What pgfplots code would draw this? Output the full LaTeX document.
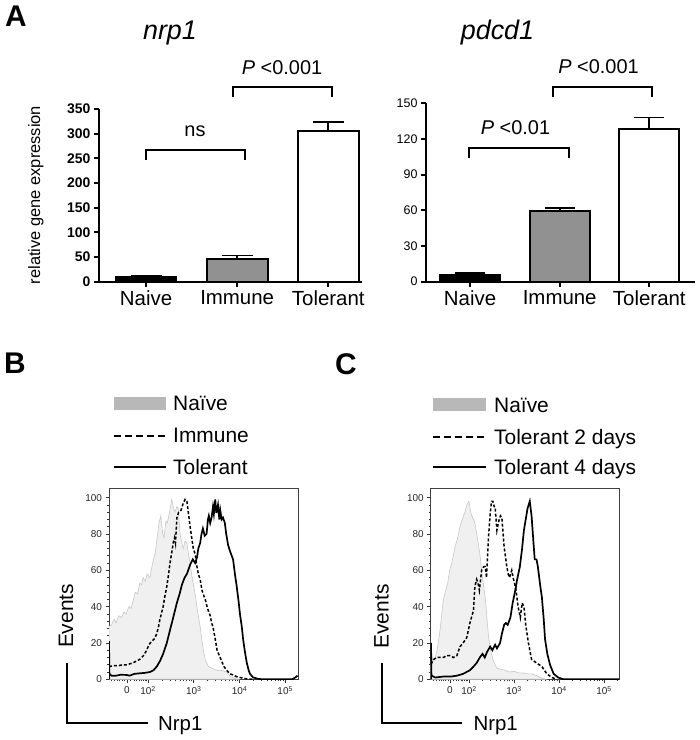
\documentclass[border=0pt]{standalone}
\usepackage{pgfplots}
\pgfplotsset{compat=1.18}
\usepackage{fontspec}
\setmainfont{Liberation Sans}
\newcommand{\fs}[1]{\fontsize{#1}{#1}\selectfont}
\begin{document}
\begin{tikzpicture}[x=1bp,y=1bp]
\path[use as bounding box] (0,0) rectangle (700,740);

%% ---------- Panel A left: nrp1 ----------
\begin{axis}[
  at={(99bp,458.3bp)}, anchor=south west, scale only axis,
  width=263bp, height=172.7bp,
  xmin=0.484, xmax=3.37, ymin=0, ymax=350,
  axis lines*=left,
  axis line style={line width=2bp},
  tick align=outside, major tick length=5bp,
  tick style={line width=2bp, black},
  xtick={1,2,3}, xticklabels={Naive,Immune,Tolerant},
  ytick={0,50,...,350},
  x tick label style={font=\fs{20.5}},
  y tick label style={font=\fs{14}\bfseries},
  /pgf/number format/assume math mode=true,
  clip=false,
]
\addplot[ybar, bar width=61bp, bar shift=0pt, fill=black, draw=black, line width=1.8bp,
  error bars/.cd, y dir=plus, y explicit,
  error bar style={line width=1.8bp},
  error mark options={line width=1.8bp, mark size=15.5bp, rotate=90}]
  coordinates {(1,10) +- (0,2)};
\addplot[ybar, bar width=61bp, bar shift=0pt, fill=black!43, draw=black, line width=1.8bp,
  error bars/.cd, y dir=plus, y explicit,
  error bar style={line width=1.8bp},
  error mark options={line width=1.8bp, mark size=15.5bp, rotate=90}]
  coordinates {(2,46) +- (0,7)};
\addplot[ybar, bar width=61bp, bar shift=0pt, fill=white, draw=black, line width=1.8bp,
  error bars/.cd, y dir=plus, y explicit,
  error bar style={line width=1.8bp},
  error mark options={line width=1.8bp, mark size=15.5bp, rotate=90}]
  coordinates {(3,306) +- (0,18)};
\end{axis}

%% ---------- Panel A right: pdcd1 ----------
\begin{axis}[
  at={(426bp,458.3bp)}, anchor=south west, scale only axis,
  width=269bp, height=178.4bp,
  xmin=0.508, xmax=3.51, ymin=0, ymax=150,
  axis lines*=left,
  axis line style={line width=2bp},
  tick align=outside, major tick length=5bp,
  tick style={line width=2bp, black},
  xtick={1,2,3}, xticklabels={Naive,Immune,Tolerant},
  ytick={0,30,...,150},
  x tick label style={font=\fs{20.5}},
  y tick label style={font=\fs{12.5}},
  /pgf/number format/assume math mode=true,
  clip=false,
]
\addplot[ybar, bar width=60bp, bar shift=0pt, fill=black, draw=black, line width=1.8bp,
  error bars/.cd, y dir=plus, y explicit,
  error bar style={line width=1.8bp},
  error mark options={line width=1.8bp, mark size=15bp, rotate=90}]
  coordinates {(1,5.5) +- (0,1.8)};
\addplot[ybar, bar width=60bp, bar shift=0pt, fill=black!43, draw=black, line width=1.8bp,
  error bars/.cd, y dir=plus, y explicit,
  error bar style={line width=1.8bp},
  error mark options={line width=1.8bp, mark size=15bp, rotate=90}]
  coordinates {(2,59.7) +- (0,2.3)};
\addplot[ybar, bar width=60bp, bar shift=0pt, fill=white, draw=black, line width=1.8bp,
  error bars/.cd, y dir=plus, y explicit,
  error bar style={line width=1.8bp},
  error mark options={line width=1.8bp, mark size=15bp, rotate=90}]
  coordinates {(3,128.2) +- (0,9.8)};
\end{axis}

%% ---------- Panel B histogram ----------
\begin{axis}[
  at={(109bp,60.7bp)}, anchor=south west, scale only axis,
  width=189bp, height=191.3bp,
  xmin=1.146, xmax=5.28, ymin=0, ymax=105.3,
  axis line style={line width=0.7bp, black!75},
  tick align=outside, major tick length=3.5bp, minor tick length=2bp,
  tick style={line width=0.6bp, black!80},
  xtick pos=bottom, ytick pos=left,
  xtick={1.54,2,3,4,5},
  xticklabels={0,10\textsuperscript{2},10\textsuperscript{3},10\textsuperscript{4},10\textsuperscript{5}},
  minor xtick={1.2,1.27,1.33,1.38,1.43,1.48,1.62,1.69,1.75,1.80,1.85,1.89,1.93,1.97,
    2.301,2.477,2.602,2.699,2.778,2.845,2.903,2.954,
    3.301,3.477,3.602,3.699,3.778,3.845,3.903,3.954,
    4.301,4.477,4.602,4.699,4.778,4.845,4.903,4.954},
  ytick={0,20,...,100}, minor y tick num=4,
  tick label style={font=\fs{10}, text=black!85},
  /pgf/number format/assume math mode=true,
]
\addplot[fill=black!6, draw=black!22, line width=0.6bp] coordinates {
(1.146,0) (1.146,29) (1.20,30) (1.26,33) (1.30,31) (1.36,35) (1.42,34) (1.47,37) (1.52,36)
(1.58,40) (1.63,39) (1.67,43) (1.72,48) (1.77,47) (1.82,53) (1.86,52) (1.89,56) (1.94,54)
(1.98,58) (2.04,56) (2.10,64) (2.16,70) (2.20,78) (2.24,86) (2.28,90) (2.32,80) (2.35,78)
(2.39,87) (2.42,86) (2.47,92) (2.52,99) (2.56,94) (2.59,92) (2.63,95) (2.66,94) (2.70,80)
(2.74,75) (2.77,72) (2.81,76) (2.85,75) (2.89,68) (2.92,64) (2.97,55) (3.03,47) (3.08,38)
(3.14,29) (3.17,23) (3.21,16) (3.25,11) (3.32,7) (3.40,6) (3.50,5) (3.60,5) (3.72,4)
(3.80,1.5) (3.90,0.5) (4.00,0)} \closedcycle;
\addplot[black, line width=1.5bp, dash pattern=on 3bp off 2bp] coordinates {
(1.146,7) (1.25,7.5) (1.35,7.5) (1.45,8) (1.53,8) (1.60,8.5) (1.67,9) (1.74,10) (1.82,11)
(1.90,13) (1.97,16) (2.02,19) (2.08,21) (2.13,22) (2.19,25) (2.23,29) (2.26,33) (2.30,37)
(2.33,40) (2.37,46) (2.41,51) (2.45,58) (2.48,64) (2.52,70) (2.55,75) (2.58,78) (2.60,75)
(2.63,89) (2.67,92) (2.72,93) (2.77,97) (2.81,99) (2.85,98) (2.89,90) (2.92,84) (2.96,77)
(2.99,72) (3.03,69) (3.07,62) (3.10,58) (3.14,55) (3.18,49) (3.22,46) (3.25,44) (3.30,39)
(3.36,35) (3.39,31) (3.42,29) (3.47,22) (3.51,16) (3.56,13) (3.61,10) (3.66,7) (3.72,5)
(3.79,3) (3.86,2.4) (3.93,1.5) (4.01,1) (4.15,0.3) (4.30,0)};
\addplot[black, line width=1.7bp] coordinates {
(1.146,0) (1.146,21) (1.155,3) (1.20,2) (1.30,2) (1.40,2.5) (1.53,2.4) (1.60,2) (1.70,3)
(1.82,3.3) (1.92,3.5) (2.04,4) (2.12,5) (2.19,7) (2.26,10) (2.33,14) (2.41,20) (2.48,27)
(2.55,34) (2.63,42) (2.69,47) (2.74,52) (2.80,56) (2.85,58) (2.92,63) (2.98,66) (3.03,64)
(3.07,67) (3.10,72) (3.14,75) (3.17,80) (3.20,83) (3.24,79) (3.28,80) (3.31,88) (3.33,90)
(3.36,86) (3.39,89) (3.42,95) (3.44,91) (3.47,99) (3.49,92) (3.50,92) (3.53,96) (3.56,88)
(3.58,93) (3.61,88) (3.64,89) (3.68,86) (3.71,80) (3.75,74) (3.80,70) (3.86,66) (3.90,58)
(3.94,51) (3.98,43) (4.01,36) (4.05,29) (4.08,22) (4.12,15) (4.16,9) (4.20,5) (4.23,3)
(4.30,1) (4.40,0.3) (4.50,0) (5.15,0) (5.22,1) (5.27,2)};
\end{axis}

%% ---------- Panel C histogram ----------
\begin{axis}[
  at={(430.7bp,60.7bp)}, anchor=south west, scale only axis,
  width=188.3bp, height=191.3bp,
  xmin=1.149, xmax=5.333, ymin=0, ymax=105.3,
  axis line style={line width=0.7bp, black!75},
  tick align=outside, major tick length=3.5bp, minor tick length=2bp,
  tick style={line width=0.6bp, black!80},
  xtick pos=bottom, ytick pos=left,
  xtick={1.578,2,3,4,5},
  xticklabels={0,10\textsuperscript{2},10\textsuperscript{3},10\textsuperscript{4},10\textsuperscript{5}},
  minor xtick={1.2,1.27,1.33,1.38,1.43,1.48,1.53,1.65,1.71,1.77,1.82,1.86,1.90,1.94,1.97,
    2.301,2.477,2.602,2.699,2.778,2.845,2.903,2.954,
    3.301,3.477,3.602,3.699,3.778,3.845,3.903,3.954,
    4.301,4.477,4.602,4.699,4.778,4.845,4.903,4.954,5.301},
  ytick={0,20,...,100}, minor y tick num=4,
  tick label style={font=\fs{10}, text=black!85},
  /pgf/number format/assume math mode=true,
]
\addplot[fill=black!6, draw=black!22, line width=0.6bp] coordinates {
(1.155,0) (1.155,8) (1.20,10) (1.25,12) (1.29,16) (1.33,22) (1.37,30) (1.42,42) (1.47,48)
(1.52,52) (1.57,60) (1.62,64) (1.69,73) (1.74,77) (1.80,84) (1.85,88) (1.91,92) (1.95,96)
(2.00,98) (2.03,93) (2.06,90) (2.10,88) (2.13,86) (2.18,79) (2.24,69) (2.30,56) (2.36,45)
(2.40,33) (2.44,22) (2.48,16) (2.53,11) (2.58,8) (2.62,6) (2.70,5.5) (2.80,5) (2.90,4)
(3.00,4.5) (3.10,3.5) (3.20,3.5) (3.30,3) (3.40,3) (3.50,2) (3.58,1) (3.70,0)} \closedcycle;
\addplot[black, line width=1.5bp, dash pattern=on 3bp off 2bp] coordinates {
(1.155,18) (1.17,9) (1.22,11) (1.28,12) (1.35,12) (1.43,12) (1.50,13) (1.58,13) (1.65,12)
(1.73,13) (1.80,18) (1.87,20) (1.95,23) (2.02,31) (2.10,38) (2.13,51) (2.17,55) (2.20,53)
(2.23,49) (2.28,60) (2.33,62) (2.36,62) (2.39,56) (2.43,77) (2.47,91) (2.50,98) (2.53,98)
(2.56,95) (2.58,95) (2.62,82) (2.67,88) (2.70,90) (2.73,89) (2.78,73) (2.84,62) (2.87,58)
(2.90,56) (2.95,60) (2.98,56) (3.04,50) (3.09,40) (3.14,34) (3.18,42) (3.22,40) (3.26,30)
(3.32,20) (3.39,11) (3.50,9) (3.62,7) (3.73,3) (3.84,1) (3.95,0)};
\addplot[black, line width=1.7bp] coordinates {
(1.155,0) (1.155,20) (1.165,2) (1.25,1) (1.43,1.5) (1.60,1.5) (1.73,2) (1.87,3) (2.02,5)
(2.10,7) (2.17,9) (2.24,12) (2.30,14) (2.35,12) (2.40,15) (2.47,18) (2.52,16) (2.58,19)
(2.62,17) (2.69,20) (2.73,25) (2.78,30) (2.82,31) (2.86,30) (2.92,34) (2.97,42) (3.02,48)
(3.07,55) (3.13,62) (3.18,72) (3.22,82) (3.26,88) (3.30,94) (3.35,98) (3.39,90) (3.43,76)
(3.46,66) (3.50,66) (3.53,62) (3.58,52) (3.62,45) (3.66,33) (3.69,22) (3.74,14) (3.80,8)
(3.88,3) (3.98,1) (4.10,0) (5.333,0)};
\end{axis}

%% ---------- annotations ----------
% panel letters
\node[anchor=base west, inner sep=0, font=\fs{30}\bfseries] at (5,713) {A};
\node[anchor=base west, inner sep=0, font=\fs{30}\bfseries] at (4,366) {B};
\node[anchor=base west, inner sep=0, font=\fs{30}\bfseries] at (335,365) {C};
% titles
\node[anchor=base, inner sep=0, font=\fs{27}\itshape] at (170,700) {nrp1};
\node[anchor=base, inner sep=0, font=\fs{27}\itshape] at (497.5,700.5) {pdcd1};
% y label
\node[rotate=90, anchor=base, inner sep=0, font=\fs{16.5}] at (40,545) {relative gene expression};
% significance brackets
\draw[line width=1.2bp] (146,580) -- (146,590) -- (245,590) -- (245,580);
\draw[line width=1.2bp] (233,643) -- (233,653) -- (332,653) -- (332,643);
\draw[line width=1.2bp] (469,582) -- (469,592) -- (569,592) -- (569,582);
\draw[line width=1.2bp] (553,643) -- (553,653) -- (652,653) -- (652,643);
\node[anchor=base, inner sep=0, font=\fs{20}] at (195,603.3) {ns};
\node[anchor=base, inner sep=0, font=\fs{20}] at (282,665) {\textit{P} <0.001};
\node[anchor=base, inner sep=0, font=\fs{20}] at (515.5,605) {\textit{P} <0.01};
\node[anchor=base, inner sep=0, font=\fs{20}] at (598.5,666) {\textit{P} <0.001};
% legend B
\fill[black!28] (114,330) rectangle (166,343);
\draw[line width=2bp, dash pattern=on 7bp off 4bp] (114,304) -- (166,304);
\draw[line width=2bp] (114,272.5) -- (166,272.5);
\node[anchor=base west, inner sep=0, font=\fs{21}] at (173,329.3) {Naïve};
\node[anchor=base west, inner sep=0, font=\fs{21}] at (173,297) {Immune};
\node[anchor=base west, inner sep=0, font=\fs{21}] at (173,265.5) {Tolerant};
% legend C
\fill[black!28] (433,328.5) rectangle (486,341.5);
\draw[line width=2bp, dash pattern=on 7bp off 4bp] (433,303) -- (486,303);
\draw[line width=2bp] (433,273) -- (486,273);
\node[anchor=base west, inner sep=0, font=\fs{21}] at (494,327.5) {Naïve};
\node[anchor=base west, inner sep=0, font=\fs{21}] at (494,295.5) {Tolerant 2 days};
\node[anchor=base west, inner sep=0, font=\fs{21}] at (494,265.5) {Tolerant 4 days};
% Events / Nrp1 brackets
\node[rotate=90, anchor=base, inner sep=0, font=\fs{21}] at (73,124) {Events};
\draw[line width=2.7bp, line join=miter] (67,77) -- (67,17) -- (148,17);
\node[anchor=base west, inner sep=0, font=\fs{20.5}] at (158,9.3) {Nrp1};
\node[rotate=90, anchor=base, inner sep=0, font=\fs{21}] at (388.5,123.5) {Events};
\draw[line width=2.7bp, line join=miter] (382,77) -- (382,17) -- (462,17);
\node[anchor=base west, inner sep=0, font=\fs{20.5}] at (473.3,9.3) {Nrp1};
\end{tikzpicture}
\end{document}
